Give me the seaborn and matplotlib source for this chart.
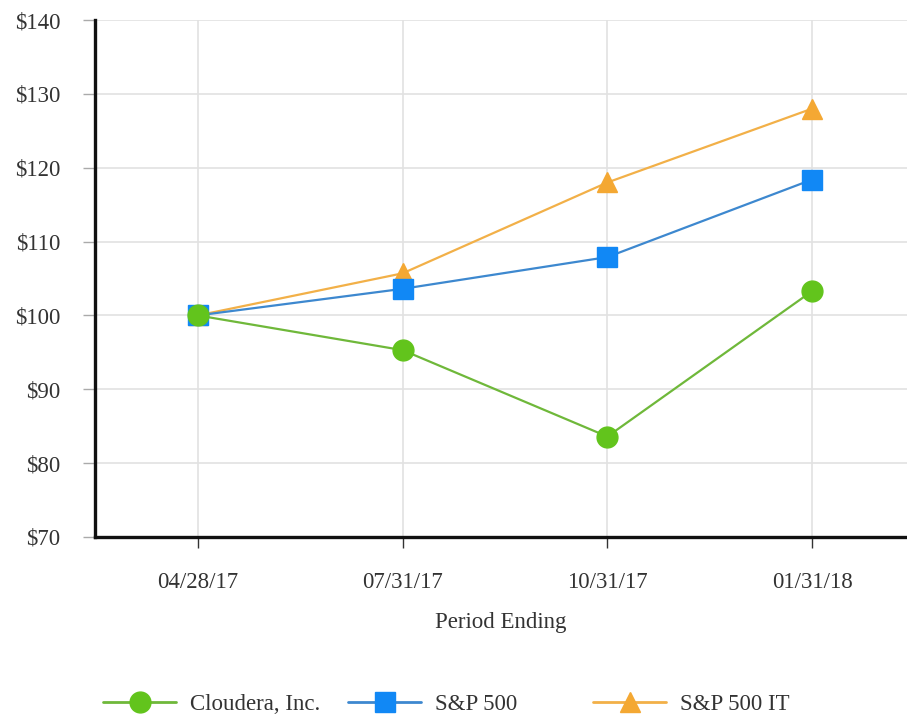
import matplotlib
matplotlib.use("Agg")
import matplotlib.pyplot as plt
import seaborn as sns
import pandas as pd
from matplotlib.lines import Line2D

periods = ["04/28/17", "07/31/17", "10/31/17", "01/31/18"]
cloudera = [100.0, 95.3, 83.6, 103.3]
sp500 = [100.0, 103.6, 107.9, 118.4]
sp500_it = [100.0, 105.7, 118.0, 128.0]
series_names = ["Cloudera, Inc.", "S&P 500", "S&P 500 IT"]
y_ticks = [70, 80, 90, 100, 110, 120, 130, 140]

colors = {"Cloudera, Inc.": "#62c41c", "S&P 500": "#1188f5", "S&P 500 IT": "#f4a833"}
line_colors = {"Cloudera, Inc.": "#6fb83a", "S&P 500": "#3d88cf", "S&P 500 IT": "#f2b048"}
markers = {"Cloudera, Inc.": "o", "S&P 500": "s", "S&P 500 IT": "^"}
msize = {"Cloudera, Inc.": 15, "S&P 500": 15, "S&P 500 IT": 15}

rows = []
for name, vals in zip(series_names, [cloudera, sp500, sp500_it]):
    for i, (p, v) in enumerate(zip(periods, vals)):
        rows.append({"series": name, "x": i, "period": p, "value": v})
df = pd.DataFrame(rows)

sns.set_theme(style="white")
plt.rcParams["font.family"] = ["Liberation Serif", "DejaVu Serif"]

FS = 16.5
fig = plt.figure(figsize=(9.07, 7.19), dpi=100)
ax = fig.add_axes([95/907, 1-537/719, 1-95/907, (537-20)/719])

for name in ["S&P 500 IT", "S&P 500", "Cloudera, Inc."]:
    sub = df[df["series"] == name]
    sns.lineplot(data=sub, x="x", y="value", ax=ax, color=line_colors[name],
                 linewidth=1.6, legend=False, zorder=3)
    ax.plot(sub["x"], sub["value"], linestyle="none", marker=markers[name],
            markersize=msize[name], markerfacecolor=colors[name],
            markeredgecolor=colors[name], zorder=4)

ax.set_xlim(-0.502, 3.463)
ax.set_ylim(70, 140)
ax.set_xticks(range(len(periods)))
ax.set_xticklabels(periods)
ax.set_yticks(y_ticks)
ax.set_yticklabels([f"${v}" for v in y_ticks])
ax.grid(True, color="#e2e2e2", linewidth=1.2)
ax.set_axisbelow(True)
for s in ["top", "right"]:
    ax.spines[s].set_visible(False)
for s in ["left", "bottom"]:
    ax.spines[s].set_color("#111111")
    ax.spines[s].set_linewidth(2.4)
ax.tick_params(axis="x", length=8, width=1, color="#333333", pad=17,
               labelsize=FS, labelcolor="#333333", bottom=True, direction="out")
ax.tick_params(axis="y", length=9, width=1, color="#aaaaaa", pad=16,
               labelsize=FS, labelcolor="#333333", left=True, direction="out")
ax.set_xlabel("Period Ending", fontsize=FS, color="#333333", labelpad=14)
ax.set_ylabel("")

legend_x = [103, 348, 593]
for n, lx in zip(series_names, legend_x):
    h = Line2D([0], [0], color=line_colors[n], linewidth=2, marker=markers[n],
               markersize=15, markerfacecolor=colors[n], markeredgecolor=colors[n])
    fig.legend([h], [n], loc="center left", bbox_to_anchor=(lx/907, 1-704/719),
               frameon=False, fontsize=FS, handlelength=3.2, handletextpad=0.6,
               borderpad=0, borderaxespad=0, labelcolor="#333333")

fig.savefig("out.png", dpi=100)
